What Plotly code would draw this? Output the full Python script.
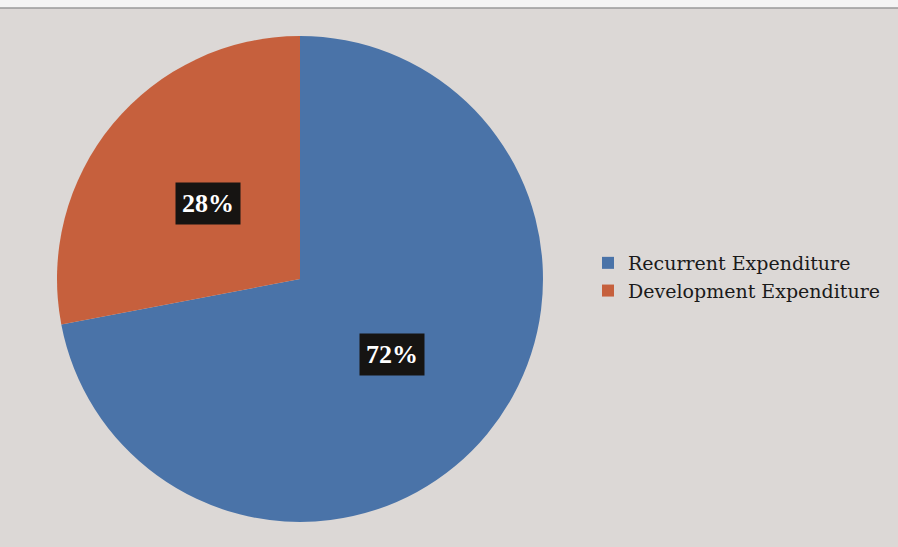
import math
import plotly.graph_objects as go

labels = ["Recurrent Expenditure", "Development Expenditure"]
values = [72, 28]
colors = ["#4a73a8", "#c6603d"]

W, H = 898, 547
cx, cy, R = 300, 279, 243

fig = go.Figure(go.Pie(
    labels=labels, values=values, sort=False, direction="clockwise",
    rotation=0, marker=dict(colors=colors, line=dict(width=0)),
    textinfo="none", hoverinfo="label+percent",
    domain=dict(x=[(cx - R) / W, (cx + R) / W], y=[(H - cy - R) / H, (H - cy + R) / H]),
))

annotations = []
total = sum(values)
cum = 0
for v in values:
    mid = (cum + v / 2) / total * 2 * math.pi
    cum += v
    r = 0.49 * R
    px = cx + r * math.sin(mid)
    py = cy - r * math.cos(mid)
    annotations.append(dict(
        x=px / W, y=1 - py / H, xref="paper", yref="paper",
        xanchor="center", yanchor="middle",
        text="<b>%d%%</b>" % round(v / total * 100), showarrow=False,
        font=dict(family="Liberation Serif", size=26, color="white"),
        bgcolor="#161412", borderpad=6,
    ))

fig.update_layout(
    width=W, height=H, margin=dict(l=0, r=0, t=0, b=0),
    paper_bgcolor="#dcd8d6", showlegend=True,
    legend=dict(x=588 / W, y=1 - 244 / H, xanchor="left", yanchor="top",
                font=dict(family="DejaVu Serif", size=19, color="#1a1a1a"),
                bgcolor="rgba(0,0,0,0)", itemwidth=30, tracegroupgap=0),
    annotations=annotations,
    shapes=[
        dict(type="rect", xref="paper", yref="paper", x0=0, x1=1, y0=1 - 8 / H, y1=1,
             fillcolor="#f4f4f4", line=dict(width=0), layer="below"),
        dict(type="line", xref="paper", yref="paper", x0=0, x1=1, y0=1 - 8 / H, y1=1 - 8 / H,
             line=dict(color="#9a9a9a", width=1.5)),
    ],
)
fig.write_html("out.html")
